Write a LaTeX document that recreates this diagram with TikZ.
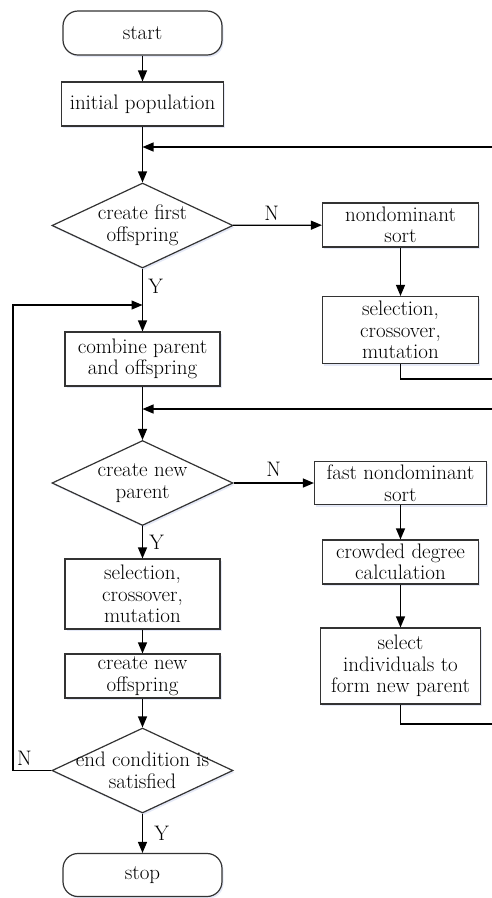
\documentclass[tikz,border=0pt]{standalone}
\usetikzlibrary{shapes.geometric,arrows.meta,shadows}
\begin{document}
\begin{tikzpicture}[x=1pt,y=-1pt,>={Triangle[length=11pt,width=9pt]},
font=\fontsize{21}{21.5}\selectfont,
lepes/.style={rectangle,draw=black!80,line width=1.2pt,fill=white,align=center,inner sep=1pt,
drop shadow={shadow xshift=1.5pt,shadow yshift=-2pt,fill=cyan!40!blue!20,opacity=0.5}},
vegpont/.style={lepes,rounded corners=15pt},
dontes/.style={lepes,diamond,inner sep=-30pt,minimum width=181pt,minimum height=85pt}]
\useasboundingbox (0,0) rectangle (492,898);

\node[vegpont,minimum width=159pt,minimum height=44pt](start) at (142.5,33){start};
\node[lepes,minimum width=162pt,minimum height=44pt](init) at (142.5,104){initial population};
\coordinate(merge1) at (142.5,147);
\node[dontes](first) at (142.5,225.5){create first\\offspring};
\node[lepes,minimum width=156pt,minimum height=44pt](nds) at (400.5,225){nondominant\\sort};
\node[lepes,minimum width=156pt,minimum height=67pt](sel1) at (400.5,330){selection,\\crossover,\\mutation};
\coordinate(out1) at (496,379);

\coordinate(merge3) at (142.5,305);
\coordinate(left) at (13,305);
\node[lepes,minimum width=155pt,minimum height=54pt](comb) at (142.5,359){combine parent\\and offspring};
\coordinate(merge2) at (142.5,409);
\node[dontes](newpar) at (142.5,483){create new\\parent};
\node[lepes,minimum width=172pt,minimum height=43pt](fnds) at (400.5,483){fast nondominant\\sort};
\node[lepes,minimum width=156pt,minimum height=44pt](crowd) at (400.5,562){crowded degree\\calculation};
\node[lepes,minimum width=160pt,minimum height=76pt](selind) at (400.5,666){select\\individuals to\\form new parent};
\coordinate(out2) at (496,724);

\node[lepes,minimum width=155pt,minimum height=70pt](sel2) at (142.5,594){selection,\\crossover,\\mutation};
\node[lepes,minimum width=155pt,minimum height=44pt](newoff) at (142.5,676){create new\\offspring};
\node[dontes](endc) at (142.5,770.5){end condition is\\satisfied};
\node[vegpont,minimum width=159pt,minimum height=43pt](stop) at (142.5,875){stop};

\begin{scope}[->,line width=1.3pt]
\draw (start)--(init);
\draw[-] (init)--(merge1);
\draw (merge1)--(first);
\draw (first)--(nds) node[midway,above,xshift=-6pt,inner sep=4pt]{N};
\draw (nds)--(sel1);
\draw (sel1.south)|-(out1)|-(merge1);
\draw[-] (first)--(merge3) node[midway,right,xshift=2pt]{Y};
\draw (merge3)--(comb);
\draw[-] (comb)--(merge2);
\draw (merge2)--(newpar);
\draw (newpar)--(fnds) node[midway,above,inner sep=6pt]{N};
\draw (fnds)--(crowd);
\draw (crowd)--(selind);
\draw (selind.south)|-(out2)|-(merge2);
\draw (newpar)--(sel2) node[midway,right,xshift=3pt]{Y};
\draw (sel2)--(newoff);
\draw (newoff)--(endc);
\draw (endc)--(stop) node[midway,right,xshift=8pt]{Y};
\draw (endc.west)-|(left) node[pos=.35,above,inner sep=4pt]{N} --(merge3);
\end{scope}
\end{tikzpicture}
\end{document}
